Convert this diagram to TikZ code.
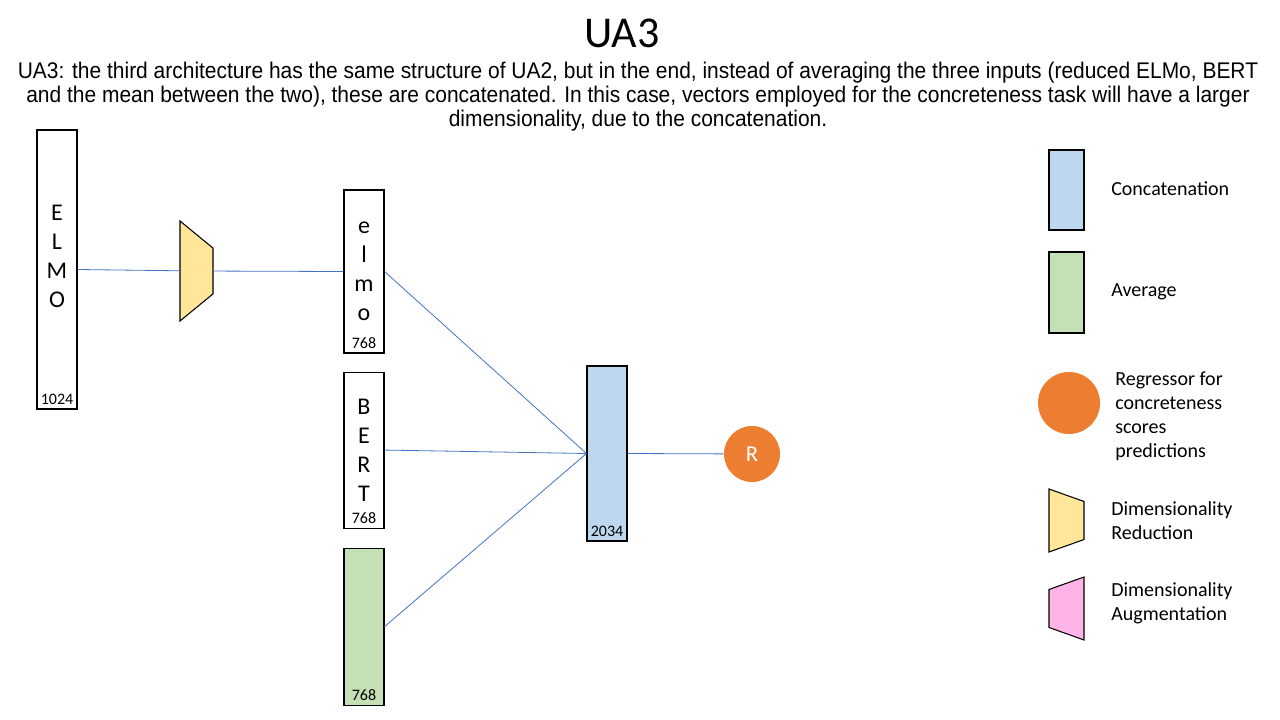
\documentclass[tikz,border=0pt]{standalone}
\usepackage{fontspec}
\setmainfont{Carlito}
\newfontfamily\descfont{Liberation Sans}
\usetikzlibrary{positioning,shapes.geometric}
\definecolor{linkblue}{HTML}{4472C4}
\definecolor{concatfill}{HTML}{BDD7EE}
\definecolor{avgfill}{HTML}{C5E0B4}
\definecolor{redfill}{HTML}{FFE699}
\definecolor{augfill}{HTML}{FFB3E6}
\definecolor{regfill}{HTML}{ED7D31}
\tikzset{
    vec/.style = {
        draw,
        line width=0.8pt,
        minimum width=30pt,
        inner sep=0pt,
        align=center,
        font=\fontsize{18}{21.75}\selectfont,
        },
    dim/.style = {
        font=\fontsize{12}{14}\selectfont,
        inner sep=1pt,
        },
    link/.style = {
        draw=linkblue,
        line width=0.6pt,
        },
    reduce/.style = {
        trapezium,
        trapezium stretches,
        draw,
        line width=0.8pt,
        fill=redfill,
        rotate=-90,
        inner sep=1pt,
        },
    augment/.style = {
        reduce,
        fill=augfill,
        rotate=180,
        },
    regressor/.style = {
        circle,
        fill=regfill,
        text=white,
        inner sep=0pt,
        font=\fontsize{17}{18}\selectfont,
        },
    legend text/.style = {
        font=\fontsize{15}{18}\selectfont,
        align=left,
        inner sep=0pt,
        anchor=west,
        },
}

\begin{document}
\begin{tikzpicture}[
            x=0.75pt, y=-0.75pt,
            desc/.style={font=\descfont\fontsize{17}{18}\selectfont, align=center, inner sep=0pt, xscale=0.925}
            ]
            \useasboundingbox (0,0) rectangle (1280,720);

            % Title
            \node [font=\fontsize{33}{40}\selectfont] (title) at (622,33) {UA3};
            \node [desc] (desc) at (638,97) {UA3: the third architecture has the same structure of UA2, but in the end, instead of averaging the three inputs (reduced ELMo, BERT\\
            and the mean between the two), these are concatenated. In this case, vectors employed for the concreteness task will have a larger\\
            dimensionality, due to the concatenation.};

            % Input
            \node [vec, minimum height=209.25pt, text depth=19.5pt] (ELMO) at (57,269.5) {E\\L\\M\\O};
            \node [dim, above=2.75pt of ELMO.south] (ELMOdim) {1024};
            \node [reduce, minimum width=75pt, minimum height=24.75pt,
                   trapezium left angle=59.4, trapezium right angle=59.4] (red) at (196.5,271) {};

            % Column
            \node [vec, minimum height=122.25pt] (elmo) at (364,271.5) {e\\l\\m\\o};
            \node [dim, above=2.75pt of elmo.south] (elmodim) {768};
            \node [vec, minimum height=117pt, below=13.5pt of elmo] (BERT) {B\\E\\R\\T};
            \node [dim, above=2.75pt of BERT.south] (BERTdim) {768};
            \node [vec, fill=avgfill, minimum height=117.75pt, below=14.25pt of BERT] (avg) {};
            \node [dim, above=2.75pt of avg.south] (avgdim) {768};

            % Output
            \node [vec, fill=concatfill, minimum height=131.25pt] (concat) at (607,453.5) {};
            \node [dim, above=2.75pt of concat.south] (concatdim) {2034};
            \node [regressor, minimum size=42pt] (R) at (752,454) {R};

            \draw[link] (ELMO.east) -- (red);
            \draw[link] (red) -- (elmo.west);
            \draw[link] (elmo.east) -- (concat.west);
            \draw[link] (BERT.east) -- (concat.west);
            \draw[link] (avg.east) -- (concat.west);
            \draw[link] (concat.east) -- (R);

            % Legend
            \node [vec, fill=concatfill, minimum width=26.25pt, minimum height=60pt] (lgcat) at (1066.5,190) {};
            \node [legend text] (lgcattext) at (1111,189) {Concatenation};
            \node [vec, fill=avgfill, minimum width=26.25pt, minimum height=60.75pt] (lgavg) at (1066.5,292.5) {};
            \node [legend text] (lgavgtext) at (1111,292) {Average};
            \node [regressor, minimum size=46.5pt] (lgreg) at (1069,403) {};
            \node [legend text] (lgregtext) at (1115,416) {Regressor for\\concreteness\\scores\\predictions};
            \node [reduce, minimum width=47.25pt, minimum height=26.25pt,
                   trapezium left angle=71.8, trapezium right angle=71.8] (lgred) at (1066.5,520.5) {};
            \node [legend text] (lgredtext) at (1111,520.5) {Dimensionality\\Reduction};
            \node [augment, minimum width=47.25pt, minimum height=26.25pt,
                   trapezium left angle=71.8, trapezium right angle=71.8] (lgaug) at (1066.5,608.5) {};
            \node [legend text] (lgaugtext) at (1111,603.5) {Dimensionality\\Augmentation};
        \end{tikzpicture}
\end{document}
